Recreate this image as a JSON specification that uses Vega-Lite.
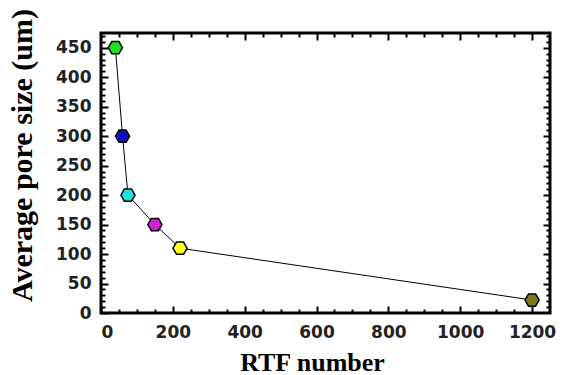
{
  "$schema": "https://vega.github.io/schema/vega-lite/v6.json",
  "width": 449,
  "height": 280,
  "autosize": {"type": "none"},
  "padding": {"left": 101, "top": 33, "right": 17, "bottom": 62},
  "background": "white",
  "config": {
    "view": {"stroke": "black", "strokeWidth": 3},
    "axis": {
      "domain": false,
      "grid": false,
      "ticks": true,
      "zindex": 1,
      "tickColor": "black",
      "tickWidth": 2,
      "labelFont": "DejaVu Sans",
      "labelFontWeight": "bold",
      "labelFontSize": 17,
      "labelColor": "#222222",
      "titleFont": "Liberation Serif",
      "titleFontWeight": "bold",
      "titleColor": "black"
    }
  },
  "data": {
    "values": [
      {"rtf": 40, "pore": 450},
      {"rtf": 60, "pore": 300},
      {"rtf": 75, "pore": 200},
      {"rtf": 150, "pore": 150},
      {"rtf": 220, "pore": 110},
      {"rtf": 1200, "pore": 22}
    ]
  },
  "layer": [
    {
      "mark": {"type": "point", "opacity": 0},
      "encoding": {
        "x": {
          "field": "rtf", "type": "quantitative",
          "scale": {"domain": [0, 1250], "nice": false, "zero": false},
          "axis": {
            "orient": "bottom", "title": null, "labels": false,
            "offset": -4, "tickSize": 4,
            "values": [50,100,150,250,300,350,450,500,550,650,700,750,850,900,950,1050,1100,1150]
          }
        },
        "y": {
          "field": "pore", "type": "quantitative",
          "scale": {"domain": [0, 475], "nice": false, "zero": false},
          "axis": {
            "orient": "left", "title": null, "labels": false,
            "offset": -4, "tickSize": 4,
            "values": [10,20,30,40,60,70,80,90,110,120,130,140,160,170,180,190,210,220,230,240,260,270,280,290,310,320,330,340,360,370,380,390,410,420,430,440,460,470]
          }
        }
      }
    },
    {
      "mark": {"type": "point", "opacity": 0},
      "encoding": {
        "x": {
          "field": "rtf", "type": "quantitative",
          "axis": {
            "orient": "top", "title": null, "labels": false,
            "offset": -4, "tickSize": 4,
            "values": [50,100,150,250,300,350,450,500,550,650,700,750,850,900,950,1050,1100,1150]
          }
        },
        "y": {
          "field": "pore", "type": "quantitative",
          "axis": {
            "orient": "right", "title": null, "labels": false,
            "offset": -4, "tickSize": 4,
            "values": [10,20,30,40,60,70,80,90,110,120,130,140,160,170,180,190,210,220,230,240,260,270,280,290,310,320,330,340,360,370,380,390,410,420,430,440,460,470]
          }
        }
      }
    },
    {
      "mark": {"type": "line", "color": "black", "strokeWidth": 1},
      "encoding": {
        "x": {
          "field": "rtf", "type": "quantitative",
          "axis": {
            "orient": "bottom",
            "title": "RTF number",
            "titleFontSize": 26,
            "titleX": 211,
            "titleY": 43,
            "values": [0,200,400,600,800,1000,1200],
            "format": "d",
            "offset": -7, "tickSize": 7,
            "labelPadding": 11
          }
        },
        "y": {
          "field": "pore", "type": "quantitative",
          "axis": {
            "orient": "left",
            "title": "Average pore size (um)",
            "titleFontSize": 30,
            "titleX": -71,
            "titleY": 122,
            "values": [0,50,100,150,200,250,300,350,400,450],
            "format": "d",
            "offset": -7, "tickSize": 7,
            "labelPadding": 10
          }
        }
      }
    },
    {
      "mark": {
        "type": "point",
        "filled": true,
        "shape": "M-1,0L-0.5,-0.866L0.5,-0.866L1,0L0.5,0.866L-0.5,0.866Z",
        "size": 200,
        "stroke": "black",
        "strokeWidth": 1.5,
        "opacity": 1
      },
      "encoding": {
        "x": {
          "field": "rtf", "type": "quantitative",
          "axis": {
            "orient": "top", "title": null, "labels": false,
            "offset": -7, "tickSize": 7,
            "values": [200,400,600,800,1000,1200]
          }
        },
        "y": {
          "field": "pore", "type": "quantitative",
          "axis": {
            "orient": "right", "title": null, "labels": false,
            "offset": -7, "tickSize": 7,
            "values": [50,100,150,200,250,300,350,400,450]
          }
        },
        "fill": {
          "field": "rtf", "type": "nominal",
          "scale": {
            "domain": [40, 60, 75, 150, 220, 1200],
            "range": ["#22e022", "#1010c0", "#20e0e0", "#d020d0", "#ffff20", "#7a7a1a"]
          },
          "legend": null
        }
      }
    }
  ],
  "resolve": {"axis": {"x": "independent", "y": "independent"}}
}
